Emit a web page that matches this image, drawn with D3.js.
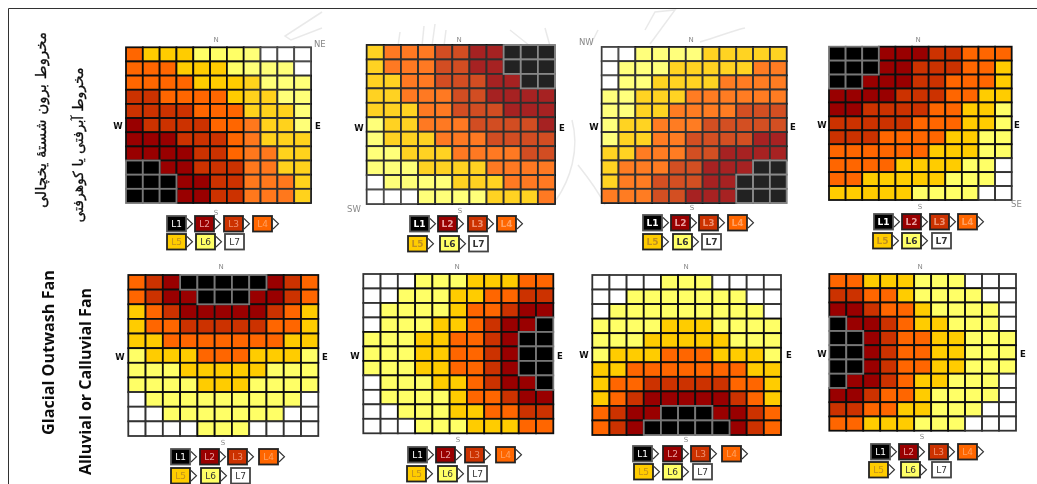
<!DOCTYPE html>
<html><head><meta charset="utf-8">
<style>html,body{margin:0;padding:0;background:#fff;overflow:hidden}svg{display:block}</style>
<script src="https://cdnjs.cloudflare.com/ajax/libs/d3/7.8.5/d3.min.js"></script>
</head><body><svg id="c" width="1037" height="484"></svg>
<script>
const levels=["L1","L2","L3","L4","L5","L6","L7"];
const levelColors=["#000000","#990000","#cc3300","#ff6600","#ffcc00","#ffff66","#ffffff"];
const levelText=["#fff","#e8a0a0","#ee9070","#ffa060","#c09020","#333","#333"];
const grid1=["45556666777","44455566667","44445555666","33444455566","33334445556","23333444556","22233344555","22223344455","11223334455","11122334445","11122334445"];
const grid2=["54443322111","54443322111","55443332211","55444332222","55544333222","65544433332","65554443333","66555444433","66655554444","76666555444","77766665554"];
const grid3=["77666655555","76665555544","76655554444","66555444444","66554444333","65544433333","65544333322","55444332222","54443322211","54433322111","44433222111"];
const grid4=["11122233444","11122333445","11222334445","22223334455","22333344556","33333444556","33344445566","44444455566","44445555667","44555556667","55555666677"];
const grid5=["43211111234","43221112234","54322222345","54433333445","55444444455","65554445556","66655555666","66665556666","76666666667","77666666677","77776667777"];
const grid6=["77766655544","77666554433","76666544322","76665543221","66655443211","66655443211","66655443211","76665543221","76666544322","77666554433","77766655544"];
const grid7=["77776667777","77666666677","76666666667","66665556666","66655555666","65554445556","55444444455","54433333445","54322222345","43221112234","43211111234"];
const grid8=["44555666777","33445666677","22344566667","12234556667","11234455666","11234455666","11234455666","12234556667","22344566667","33445566677","44555666777"];
const grids=[grid1,grid2,grid3,grid4,grid5,grid6,grid7,grid8];
const rowLabels=["مخروط برون شستهٔ یخچالی","مخروط آبرفتی یا کوهرفتی","Glacial Outwash Fan","Alluvial or Calluvial Fan"];

// layout
const panels=[
 {g:[126,311,47.3,203],r1:216,r2:234,a:[167,195,224,253],b:[167,196,225],n:[216,40],s:[216,213],w:[118,126],e:[318,126],c:["NE",314,44]},
 {g:[366.7,555,45,204],r1:216,r2:236,a:[410,438,468,497],b:[408,440,469],n:[459,40],s:[460,211],w:[359,128],e:[562,128],c:["SW",347,209]},
 {g:[601.7,786.7,47,203],r1:215,r2:234,a:[643,671,699,728],b:[643,673,702],n:[691,40],s:[692,208],w:[594,127],e:[793,127],c:["NW",579,42]},
 {g:[829,1011.7,46.7,200],r1:214,r2:233,a:[874,902,930,958],b:[873,902,932],n:[918,40],s:[920,207],w:[822,125],e:[1017,125],c:["SE",1011,204]},
 {g:[128.3,318.3,275,436],r1:449,r2:468,a:[171,200,228,259],b:[171,201,231],n:[221,267],s:[223,443],w:[120,357],e:[325,357],c:null},
 {g:[363.3,553.3,274,433.3],r1:447,r2:466,a:[408,436,465,496],b:[407,438,468],n:[457,267],s:[458,440],w:[355,356],e:[560,356],c:null},
 {g:[592.3,781,275,435],r1:446,r2:464,a:[633,663,691,722],b:[634,663,693],n:[686,267],s:[686,440],w:[584,355],e:[789,355],c:null},
 {g:[829.3,1016,274,430.7],r1:444,r2:462,a:[871,899,929,958],b:[869,901,932],n:[920,267],s:[922,437],w:[822,354],e:[1023,354],c:null}
];
const washes=[[244,311,47,203,.12],[366.7,555,45,204,.13],[601.7,786.7,47,203,.14]];
const svg=d3.select("#c");
const defs=svg.append("defs");
defs.append("filter").attr("id","soft").attr("x","-2%").attr("y","-2%").attr("width","104%").attr("height","104%")
  .append("feGaussianBlur").attr("stdDeviation",0.4);
const root=svg.append("g").attr("filter","url(#soft)");
const color=d3.scaleOrdinal().domain(d3.range(1,8)).range(levelColors);
const idx=d3.range(11);

// frame rules
root.append("path").attr("d","M8.5,484V8.5H1037").attr("fill","none").attr("stroke","#333").attr("stroke-width",1);

// watermark
const mark=root.append("g").attr("fill","none").attr("stroke","#c8c8c8").attr("stroke-width",1.5).attr("stroke-opacity",.4);
["M322,12L285,36L291,40L322,28","M400,32L398,46","M424,26L422,46","M435,24L432,46","M446,30L444,46","M645,30L655,12L675,10L650,44","M700,42C720,36 735,30 745,28","M510,30L530,46","M545,28L550,46","M590,46L598,30",
 "M366,78C420,96 470,85 510,60","M572,120C580,150 570,180 556,200","M578,165C590,180 600,195 605,205"].forEach(d=>mark.append("path").attr("d",d));

panels.forEach((p,i)=>{
  const [x0,x1,y0,y1]=p.g;
  const gx=d3.scaleBand().domain(idx).range([x0,x1]);
  const gy=d3.scaleBand().domain(idx).range([y0,y1]);
  const cells=[];
  grids[i].forEach((row,r)=>[...row].forEach((v,c)=>cells.push({r,c,v:+v})));
  const g=root.append("g");
  g.selectAll("rect").data(cells.sort((a,b)=>(a.v===1)-(b.v===1))).join("rect")
    .attr("x",d=>gx(d.c)).attr("y",d=>gy(d.r)).attr("width",gx.bandwidth()).attr("height",gy.bandwidth())
    .attr("fill",d=>color(d.v))
    .attr("stroke",d=>d.v===1?"#777":d.v===7?"#333":"#111").attr("stroke-width",1.8);
  const lab=(t,pos,fill,size,weight,anchor="middle")=>root.append("text").attr("x",pos[0]).attr("y",pos[1]).attr("text-anchor",anchor)
    .attr("dominant-baseline","central").attr("font-family","DejaVu Sans").attr("font-size",size).attr("font-weight",weight).attr("fill",fill).text(t);
  lab("N",p.n,"#888",7,"normal");
  lab("S",p.s,"#888",7,"normal");
  lab("W",p.w,"#111",8.5,"bold");
  lab("E",p.e,"#111",8.5,"bold");
  if(p.c) lab(p.c[0],[p.c[1],p.c[2]],"#888",8.5,"normal","start");
  const rows=[[p.r1,p.a,0],[p.r2,p.b,4]];
  rows.forEach(([y,xs,off])=>xs.forEach((x,k)=>{
    const li=off+k, w=19, h=15.5;
    root.append("rect").attr("x",x).attr("y",y).attr("width",w).attr("height",h)
      .attr("fill",levelColors[li]).attr("stroke",li===6?"#444":li===0?"#555":"#222").attr("stroke-width",1.8);
    root.append("text").attr("x",x+w/2).attr("y",y+h/2+.5).attr("text-anchor","middle").attr("dominant-baseline","central")
      .attr("font-family","DejaVu Sans").attr("font-size",9).attr("font-weight",i===1||i===2||i===3?"bold":"normal").attr("fill",levelText[li]).text(levels[li]);
    if(li!==6){
      const cx=x+w+1;
      root.append("path").attr("d",`M${cx},${y+2.5}L${cx+5.5},${y+h/2}L${cx},${y+h-2.5}`).attr("fill","none").attr("stroke","#333").attr("stroke-width",1.1);
    }
  }));
});
washes.forEach(([a,b,c,d,o])=>root.append("rect").attr("x",a).attr("y",c).attr("width",b-a).attr("height",d-c).attr("fill","#fff").attr("opacity",o));

// row titles
[[41,120,0,"DejaVu Sans",15,"normal",.3],[78,145,1,"DejaVu Sans",14,"normal",.3],[48,352.5,2,"Open Sans",16.2,"700",0],[85,381.5,3,"Open Sans",16,"700",0]].forEach(([x,y,t,f,s,w,sw])=>{
  root.append("text").attr("transform",`translate(${x},${y}) rotate(-90)`).attr("text-anchor","middle").attr("dominant-baseline","central")
   .attr("font-family",f).attr("font-size",s).attr("font-weight",w).attr("fill","#111").attr("stroke","#111").attr("stroke-width",sw).text(rowLabels[t]);
});
</script></body></html>
